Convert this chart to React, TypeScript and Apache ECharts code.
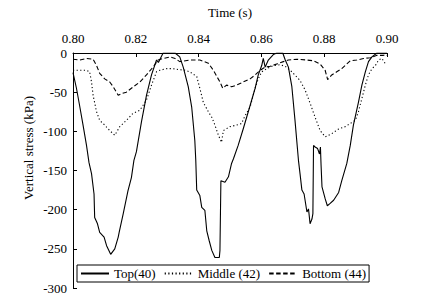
import React, { useEffect, useRef } from "react";
import * as echarts from "echarts";

const X_TICKS = [0.8, 0.82, 0.84, 0.86, 0.88, 0.9];
const SERIES_NAMES = ["Top(40)", "Middle (42)", "Bottom (44)"];
const Y_NAME = "Vertical stress (kPa)";

const TOP: [number, number][] = [
  [0.8, -25], [0.8011, -45], [0.8021, -67], [0.8032, -92], [0.8043, -118], [0.8051, -140], [0.8059, -154],
  [0.8067, -180], [0.8069, -210], [0.8078, -218], [0.8085, -229], [0.8099, -235], [0.8107, -246], [0.812, -257],
  [0.8133, -250], [0.8144, -235], [0.8147, -229], [0.816, -205], [0.8175, -176], [0.8186, -159], [0.8194, -137],
  [0.8202, -126], [0.8218, -88], [0.8234, -54], [0.825, -28], [0.8266, -9], [0.8272, -12], [0.8287, 0], [0.8325, 0],
  [0.834, -5], [0.8351, -18], [0.8367, -43], [0.8378, -69], [0.8388, -112], [0.8391, -137], [0.8394, -175],
  [0.8404, -182], [0.841, -197], [0.842, -201], [0.8426, -227], [0.8434, -240], [0.8442, -252], [0.8452, -261],
  [0.8466, -261], [0.8468, -252], [0.8471, -163], [0.8484, -165], [0.8495, -158], [0.8505, -141], [0.8511, -135],
  [0.8526, -118], [0.8542, -97], [0.8564, -67], [0.858, -45], [0.859, -28], [0.8601, -16], [0.8606, -7],
  [0.8612, -18], [0.8622, -9], [0.8638, -2], [0.8649, 0], [0.8668, 0], [0.8676, -9], [0.8686, -18], [0.8697, -43],
  [0.8707, -86], [0.8718, -137], [0.8723, -154], [0.8729, -175], [0.8736, -180], [0.8745, -203], [0.875, -199],
  [0.8755, -218], [0.8761, -212], [0.8764, -205], [0.8766, -118], [0.8771, -120], [0.8779, -122], [0.8785, -129],
  [0.8788, -120], [0.879, -143], [0.8793, -171], [0.8803, -186], [0.881, -195], [0.8819, -192], [0.883, -188],
  [0.8846, -178], [0.8856, -163], [0.8872, -141], [0.8883, -118], [0.8893, -92], [0.8909, -63], [0.892, -41],
  [0.8931, -24], [0.8941, -11], [0.8952, -5], [0.8968, 0], [0.9, 0],
];

const MIDDLE: [number, number][] = [
  [0.8, -22], [0.8043, -22], [0.8053, -24], [0.8059, -37], [0.8064, -54], [0.8075, -75], [0.8085, -86],
  [0.8101, -92], [0.8117, -99], [0.8133, -105], [0.8149, -94], [0.817, -86], [0.8191, -77], [0.8213, -73],
  [0.8234, -60], [0.825, -41], [0.8266, -24], [0.8277, -22], [0.8298, -20], [0.8319, -20], [0.8335, -21],
  [0.8356, -22], [0.8372, -24], [0.8394, -30], [0.8404, -45], [0.8415, -63], [0.8431, -75], [0.8442, -82],
  [0.8452, -92], [0.8463, -105], [0.8473, -114], [0.8479, -99], [0.85, -94], [0.8521, -92], [0.8537, -90],
  [0.8548, -80], [0.8564, -69], [0.858, -45], [0.859, -33], [0.8601, -24], [0.8617, -20], [0.8638, -16],
  [0.8659, -15], [0.8676, -17], [0.8697, -24], [0.8723, -35], [0.8739, -47], [0.8755, -64], [0.8771, -82],
  [0.8787, -99], [0.8803, -107], [0.8824, -103], [0.8846, -97], [0.8867, -94], [0.8883, -90], [0.8899, -86],
  [0.8909, -75], [0.892, -58], [0.8931, -41], [0.8941, -28], [0.8952, -20], [0.8963, -16], [0.8973, -9],
  [0.8984, -7], [0.8995, -14], [0.9, -14],
];

const BOTTOM: [number, number][] = [
  [0.8, -8], [0.8021, -9], [0.8043, -7], [0.8064, -8], [0.8075, -16], [0.8085, -26], [0.8101, -33],
  [0.8117, -37], [0.8128, -43], [0.8144, -54], [0.8154, -52], [0.817, -50], [0.8186, -45], [0.8213, -37],
  [0.8234, -28], [0.8255, -18], [0.8271, -9], [0.8287, -7], [0.8309, -5], [0.8325, -7], [0.834, -11],
  [0.8372, -9], [0.8404, -9], [0.8431, -13], [0.8447, -22], [0.8468, -37], [0.8477, -45], [0.8489, -41],
  [0.8505, -43], [0.8521, -41], [0.8542, -37], [0.8564, -33], [0.858, -28], [0.8596, -22], [0.8612, -18],
  [0.8628, -17], [0.8649, -14], [0.867, -11], [0.8686, -9], [0.8713, -8], [0.8745, -9], [0.8766, -10],
  [0.8787, -14], [0.8803, -22], [0.8811, -34], [0.8824, -28], [0.884, -24], [0.8856, -20], [0.8872, -14],
  [0.8883, -10], [0.8904, -9], [0.8925, -7], [0.8947, -6], [0.8968, -3], [0.8989, -3], [0.8995, -2], [0.9, -3],
];

const FONT = "'Liberation Serif', 'Times New Roman', Times, serif";

export default function App() {
  const ref = useRef<HTMLDivElement>(null);
  useEffect(() => {
    if (!ref.current) return;
    const chart = echarts.init(ref.current, undefined, { renderer: "svg" });
    const lineStyle = (type: any) => ({ color: "#000", width: 1.1, type });
    chart.setOption({
      animation: false,
      backgroundColor: "#fff",
      textStyle: { fontFamily: FONT, color: "#000" },
      grid: { left: 73, top: 53, width: 314, height: 235 },
      graphic: [
        {
          type: "text",
          x: 28,
          y: 148,
          rotation: Math.PI / 2,
          style: {
            text: Y_NAME,
            fontFamily: FONT,
            fontSize: 13,
            fill: "#000",
            align: "center",
            verticalAlign: "middle",
          },
        },
      ],
      xAxis: {
        type: "value",
        position: "top",
        min: 0.8,
        max: 0.9,
        interval: 0.02,
        name: "Time (s)",
        nameLocation: "middle",
        nameGap: 34,
        nameTextStyle: { fontFamily: FONT, fontSize: 13, color: "#000" },
        axisLine: { show: true, lineStyle: { color: "#000", width: 1 } },
        axisTick: { show: true, inside: true, length: 4, lineStyle: { color: "#000" } },
        axisLabel: {
          fontFamily: FONT, fontSize: 13, color: "#000", margin: 8,
          formatter: (v: number) => {
            const m = X_TICKS.find((t) => Math.abs(t - v) < 1e-6);
            return (m !== undefined ? m : v).toFixed(2);
          },
        },
        splitLine: { show: false },
      },
      yAxis: {
        type: "value",
        min: -300,
        max: 0,
        interval: 50,
        axisLine: { show: true, lineStyle: { color: "#000", width: 1 } },
        axisTick: { show: true, inside: true, length: 4, lineStyle: { color: "#000" } },
        axisLabel: { fontFamily: FONT, fontSize: 13, color: "#000", margin: 6 },
        splitLine: { show: false },
      },
      legend: {
        left: 77,
        top: 265,
        padding: [2, 3],
        itemGap: 8,
        itemWidth: 28,
        itemHeight: 14,
        borderColor: "#000",
        borderWidth: 1,
        backgroundColor: "#fff",
        itemStyle: { color: "rgba(0,0,0,0)", borderWidth: 0, opacity: 0 },
        textStyle: { fontFamily: FONT, fontSize: 13, color: "#000" },
        data: SERIES_NAMES,
      },
      series: [
        { name: SERIES_NAMES[0], type: "line", data: TOP, symbol: "none", lineStyle: lineStyle("solid"), itemStyle: { color: "#000" } },
        { name: SERIES_NAMES[1], type: "line", data: MIDDLE, symbol: "none", lineStyle: lineStyle([1.2, 2.4]), itemStyle: { color: "#000" } },
        { name: SERIES_NAMES[2], type: "line", data: BOTTOM, symbol: "none", lineStyle: lineStyle([4.5, 2.5]), itemStyle: { color: "#000" } },
      ],
    });
    return () => chart.dispose();
  }, []);
  return <div ref={ref} style={{ position: "fixed", left: 0, top: 0, width: 427, height: 305 }} />;
}
